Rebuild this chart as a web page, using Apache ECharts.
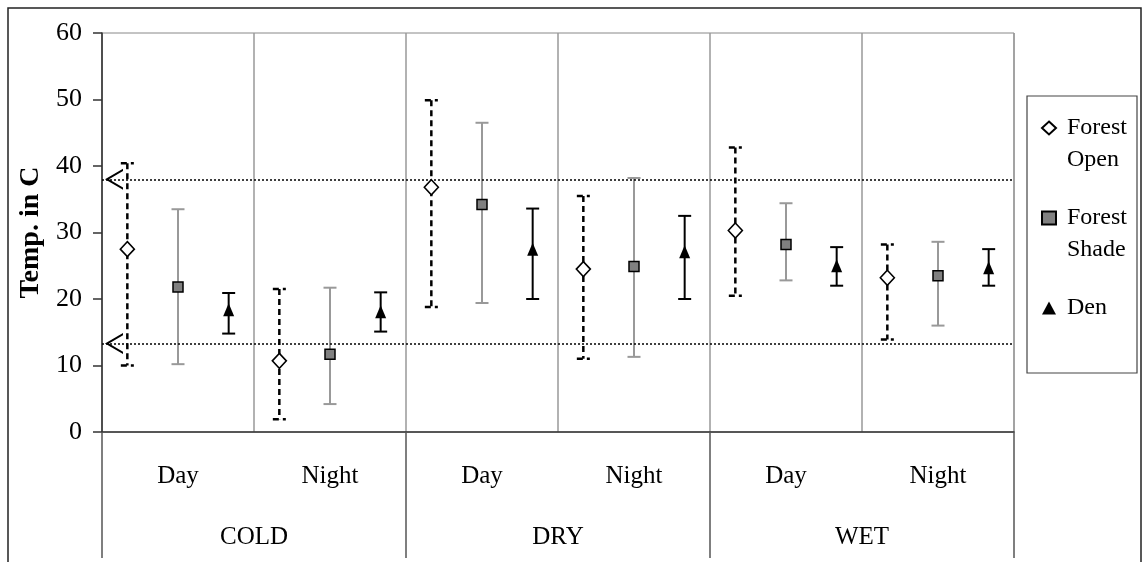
<!DOCTYPE html>
<html><head><meta charset="utf-8">
<script src="https://cdn.jsdelivr.net/npm/echarts@6/dist/echarts.min.js"></script>
<style>html,body{margin:0;padding:0;background:#fff}#c{width:1142px;height:562px}</style>
</head><body><div id="c"></div>
<script>
// ---- data ----
const periods = ['Day', 'Night', 'Day', 'Night', 'Day', 'Night'];
const seasons = ['COLD', 'DRY', 'WET'];
const seriesNames = ['Forest Open', 'Forest Shade', 'Den'];
const yMin = 0, yMax = 60, yStep = 10;
const thresholds = [38, 13.3];

const openMean  = [27.5, 10.7, 36.8, 24.5, 30.3, 23.2];
const openHigh  = [40.4, 21.5, 49.9, 35.5, 42.8, 28.2];
const openLow   = [10.0,  1.9, 18.8, 11.0, 20.5, 13.9];

const shadeMean = [21.8, 11.7, 34.2, 24.9, 28.2, 23.5];
const shadeHigh = [33.5, 21.7, 46.5, 38.2, 34.4, 28.6];
const shadeLow  = [10.2,  4.2, 19.4, 11.3, 22.8, 16.0];

const denMean   = [18.4, 18.1, 27.5, 27.1, 25.0, 24.7];
const denHigh   = [20.9, 21.0, 33.6, 32.5, 27.8, 27.5];
const denLow    = [14.8, 15.1, 20.0, 20.0, 22.0, 22.0];

// ---- build ----
const FONT = 'Liberation Serif, Times New Roman, serif';
const SLOTS = 3;
function rows(mean, lo, hi, slot) {
  return mean.map((m, i) => [i * SLOTS + slot + 0.5, m, lo[i], hi[i]]);
}
const openRows = rows(openMean, openLow, openHigh, 0);
const shadeRows = rows(shadeMean, shadeLow, shadeHigh, 1);
const denRows = rows(denMean, denLow, denHigh, 2);

function errRender(style, capW) {
  return function (params, api) {
    const x = api.value(0);
    const top = api.coord([x, api.value(3)]);
    const bot = api.coord([x, api.value(2)]);
    const h = capW / 2;
    return {
      type: 'group',
      children: [
        { type: 'line', shape: { x1: top[0], y1: top[1], x2: bot[0], y2: bot[1] }, style: style },
        { type: 'line', shape: { x1: top[0] - h, y1: top[1], x2: top[0] + h, y2: top[1] }, style: style },
        { type: 'line', shape: { x1: bot[0] - h, y1: bot[1], x2: bot[0] + h, y2: bot[1] }, style: style }
      ]
    };
  };
}
function errSeries(data, style) {
  return {
    type: 'custom', xAxisIndex: 0, yAxisIndex: 0, silent: true, z: 2,
    renderItem: errRender(style, 13),
    encode: { x: 0, y: [2, 3] },
    data: data
  };
}

const chevron = 'path://M20,0 L0,11 L20,22 L20,19.6 L4.4,11 L20,2.4 Z';

const option = {
  animation: false,
  backgroundColor: '#fff',
  textStyle: { fontFamily: FONT },
  graphic: [
    { type: 'rect', shape: { x: 8, y: 8, width: 1133, height: 600 },
      style: { fill: 'none', stroke: '#222', lineWidth: 1.5 }, silent: true, z: -10 },
    { type: 'rect', shape: { x: 1027, y: 96, width: 110, height: 277 },
      style: { fill: '#fff', stroke: '#444', lineWidth: 1.2 }, silent: true, z: -5 }
  ],
  grid: { left: 102, top: 33, width: 912, height: 399, show: true, borderColor: '#888', borderWidth: 1, backgroundColor: '#fff' },
  legend: {
    data: seriesNames,
    orient: 'vertical',
    left: 1041, top: 80,
    itemWidth: 14, itemHeight: 13, itemGap: -6,
    padding: 0,
    selectedMode: false,
    formatter: function (name) {
      return name === 'Den' ? ' \nDen\n ' : ' \n' + name.replace(' ', '\n');
    },
    textStyle: { fontFamily: FONT, fontSize: 24, color: '#000', lineHeight: 32, padding: [0, 0, 0, 6] }
  },
  xAxis: [
    { type: 'value', min: 0, max: periods.length * SLOTS, show: false },
    { type: 'category', data: periods, position: 'bottom', gridIndex: 0,
      boundaryGap: true,
      axisLine: { show: true, lineStyle: { color: '#333', width: 1.5 } },
      axisTick: { show: false },
      splitLine: { show: true, interval: 0, lineStyle: { color: '#999', width: 1.5 } },
      axisLabel: { fontFamily: FONT, fontSize: 25, color: '#000', margin: 32, interval: 0 } },
    { type: 'category', data: seasons, position: 'bottom', gridIndex: 0,
      boundaryGap: true,
      axisLine: { show: false },
      axisTick: { show: true, interval: 0, length: 126, lineStyle: { color: '#555', width: 1.5 } },
      splitLine: { show: false },
      axisLabel: { fontFamily: FONT, fontSize: 25, color: '#000', margin: 93, interval: 0 } }
  ],
  yAxis: {
    type: 'value', min: yMin, max: yMax, interval: yStep,
    name: 'Temp. in C', nameLocation: 'middle', nameRotate: 90, nameGap: 55,
    nameTextStyle: { fontFamily: FONT, fontSize: 28, fontWeight: 'bold', color: '#000' },
    axisLine: { show: true, lineStyle: { color: '#333', width: 1.5 } },
    axisTick: { show: true, length: 9, lineStyle: { color: '#333', width: 1.5 } },
    splitLine: { show: false },
    axisLabel: { fontFamily: FONT, fontSize: 26, color: '#000', margin: 20 }
  },
  series: [
    errSeries(openRows, { stroke: '#000', lineWidth: 2.5, lineDash: [6, 4] }),
    errSeries(shadeRows, { stroke: '#999', lineWidth: 2 }),
    errSeries(denRows, { stroke: '#000', lineWidth: 2 }),
    {
      name: 'Forest Open', type: 'scatter', z: 5, data: openRows.map(r => [r[0], r[1]]),
      symbol: 'diamond', symbolSize: [14, 15],
      itemStyle: { color: '#fff', borderColor: '#000', borderWidth: 1.6, opacity: 1 },
      markLine: {
        silent: true, symbol: ['none', 'none'], label: { show: false },
        lineStyle: { color: '#000', type: [2, 2], width: 1.5 },
        data: thresholds.map(t => [{ coord: [0, t] }, { coord: [periods.length * SLOTS, t] }])
      }
    },
    {
      name: 'Forest Shade', type: 'scatter', z: 5, data: shadeRows.map(r => [r[0], r[1]]),
      symbol: 'rect', symbolSize: 10,
      itemStyle: { color: '#808080', borderColor: '#000', borderWidth: 1.5, opacity: 1 }
    },
    {
      name: 'Den', type: 'scatter', z: 5, data: denRows.map(r => [r[0], r[1]]),
      symbol: 'triangle', symbolSize: [11, 13],
      itemStyle: { color: '#000', opacity: 1 }
    },
    {
      name: 'thresholdArrows', type: 'scatter', z: 6, silent: true,
      data: thresholds.map(t => [0, t]),
      symbol: chevron, symbolSize: [18, 21], symbolOffset: [12, 0],
      itemStyle: { color: '#000', opacity: 1 }
    }
  ]
};
const chart = echarts.init(document.getElementById('c'), null, { renderer: 'canvas' });
chart.setOption(option);
</script></body></html>
